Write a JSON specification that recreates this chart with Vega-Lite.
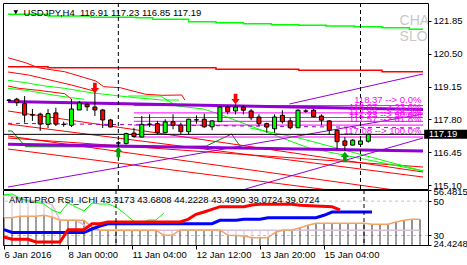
{
"$schema": "https://vega.github.io/schema/vega-lite/v6.json",
"background": "white",
"padding": {"left": 2, "top": 2, "right": 0, "bottom": 0},
"spacing": 1,
"bounds": "flush",
"config": {
  "font": "Liberation Sans",
  "view": {"stroke": "#000000", "strokeWidth": 1}
},
"datasets": {
  "candles": [
    {"i":0,"o":118.60,"h":118.64,"l":118.54,"c":118.58},
    {"i":1,"o":118.63,"h":118.69,"l":118.35,"c":118.49},
    {"i":2,"o":118.45,"h":118.76,"l":117.67,"c":117.98},
    {"i":3,"o":117.99,"h":118.23,"l":117.74,"c":117.98},
    {"i":4,"o":118.02,"h":118.08,"l":117.33,"c":117.61},
    {"i":5,"o":117.60,"h":118.23,"l":117.45,"c":118.04},
    {"i":6,"o":118.07,"h":118.28,"l":117.53,"c":117.61},
    {"i":7,"o":117.60,"h":117.71,"l":117.50,"c":117.59},
    {"i":8,"o":117.56,"h":118.64,"l":117.49,"c":118.23},
    {"i":9,"o":118.19,"h":118.56,"l":118.19,"c":118.48},
    {"i":10,"o":118.43,"h":118.48,"l":118.15,"c":118.32},
    {"i":11,"o":118.31,"h":118.97,"l":117.94,"c":118.19},
    {"i":12,"o":118.19,"h":118.23,"l":117.45,"c":117.78},
    {"i":13,"o":117.78,"h":117.82,"l":117.49,"c":117.49},
    {"i":14,"o":116.84,"h":116.92,"l":116.71,"c":116.83},
    {"i":15,"o":116.81,"h":117.26,"l":116.78,"c":117.22},
    {"i":16,"o":117.24,"h":117.46,"l":117.05,"c":117.10},
    {"i":17,"o":117.08,"h":117.94,"l":117.08,"c":117.60},
    {"i":18,"o":117.61,"h":118.01,"l":117.49,"c":117.60},
    {"i":19,"o":117.63,"h":117.74,"l":117.19,"c":117.26},
    {"i":20,"o":117.26,"h":117.81,"l":117.23,"c":117.70},
    {"i":21,"o":117.71,"h":118.01,"l":117.40,"c":117.56},
    {"i":22,"o":117.57,"h":117.67,"l":117.19,"c":117.30},
    {"i":23,"o":117.30,"h":117.83,"l":117.19,"c":117.81},
    {"i":24,"o":117.79,"h":117.97,"l":117.63,"c":117.78},
    {"i":25,"o":117.81,"h":118.04,"l":117.46,"c":117.50},
    {"i":26,"o":117.50,"h":117.77,"l":117.36,"c":117.74},
    {"i":27,"o":117.71,"h":118.35,"l":117.71,"c":118.31},
    {"i":28,"o":118.31,"h":118.39,"l":118.01,"c":118.12},
    {"i":29,"o":118.15,"h":118.42,"l":118.01,"c":118.31},
    {"i":30,"o":118.31,"h":118.39,"l":118.01,"c":118.18},
    {"i":31,"o":118.15,"h":118.22,"l":117.77,"c":117.87},
    {"i":32,"o":117.90,"h":118.01,"l":117.53,"c":117.63},
    {"i":33,"o":117.63,"h":117.67,"l":117.26,"c":117.49},
    {"i":34,"o":117.42,"h":118.01,"l":117.26,"c":117.90},
    {"i":35,"o":117.97,"h":118.18,"l":117.63,"c":117.71},
    {"i":36,"o":117.74,"h":117.87,"l":117.40,"c":117.46},
    {"i":37,"o":117.46,"h":118.22,"l":117.46,"c":118.18},
    {"i":38,"o":118.15,"h":118.22,"l":118.08,"c":118.14},
    {"i":39,"o":118.18,"h":118.24,"l":117.91,"c":117.91},
    {"i":40,"o":117.94,"h":118.01,"l":117.56,"c":117.77},
    {"i":41,"o":117.74,"h":117.77,"l":117.19,"c":117.36},
    {"i":42,"o":117.36,"h":117.40,"l":116.58,"c":116.89},
    {"i":43,"o":116.92,"h":117.08,"l":116.51,"c":116.74},
    {"i":44,"o":116.75,"h":116.99,"l":116.74,"c":116.95},
    {"i":45,"o":116.78,"h":116.95,"l":116.74,"c":116.92},
    {"i":46,"o":116.91,"h":117.23,"l":116.85,"c":117.19}
  ],
  "lines": [
    {"s":"GT","i":-0.125,"p":122.113},{"s":"GT","i":5,"p":122.043},{"s":"GT","i":10.5,"p":121.99},{"s":"GT","i":16.25,"p":121.973},{"s":"GT","i":18.4,"p":121.908},{"s":"GT","i":23,"p":121.809},{"s":"GT","i":26.5,"p":121.768},{"s":"GT","i":30,"p":121.727},{"s":"GT","i":33.6,"p":121.686},{"s":"GT","i":37.1,"p":121.662},{"s":"GT","i":40.6,"p":121.633},{"s":"GT","i":44.25,"p":121.604},{"s":"GT","i":47.75,"p":121.563},{"s":"GT","i":51.25,"p":121.498},{"s":"GT","i":53,"p":121.498},
    {"s":"RH","i":-0.125,"p":119.964},{"s":"RH","i":5,"p":119.923},{"s":"RH","i":26.5,"p":119.857},{"s":"RH","i":37.1,"p":119.816},{"s":"RH","i":47.75,"p":119.759},{"s":"RH","i":53,"p":119.759},
    {"s":"R1","i":-0.125,"p":120.333},{"s":"R1","i":2.125,"p":120.128},{"s":"R1","i":3.75,"p":119.923},{"s":"R1","i":5,"p":119.857},{"s":"R1","i":7.125,"p":119.759},{"s":"R1","i":11.125,"p":119.377},{"s":"R1","i":12.125,"p":119.144},{"s":"R1","i":14.25,"p":119.103},{"s":"R1","i":15.5,"p":118.996},{"s":"R1","i":17.5,"p":118.832},{"s":"R1","i":19.625,"p":118.791},{"s":"R1","i":22.125,"p":118.803},{"s":"R1","i":22.5,"p":118.598},
    {"s":"R2","i":-0.125,"p":119.746},{"s":"R2","i":2.5,"p":119.623},{"s":"R2","i":8,"p":119.213},{"s":"R2","i":10.875,"p":118.967},
    {"s":"R3","i":-0.125,"p":119.172},{"s":"R3","i":1.25,"p":119.078},{"s":"R3","i":3.75,"p":118.996},{"s":"R3","i":7.125,"p":118.857},{"s":"R3","i":8,"p":118.639},
    {"s":"G1","i":-0.125,"p":119.406},{"s":"G1","i":2.125,"p":119.308},{"s":"G1","i":4.625,"p":119.172},{"s":"G1","i":7.125,"p":119.078},{"s":"G1","i":10.5,"p":118.898},{"s":"G1","i":13.375,"p":118.791},{"s":"G1","i":16.25,"p":118.692},{"s":"G1","i":19.625,"p":118.598},{"s":"G1","i":21.75,"p":118.598},
    {"s":"G2","i":-0.125,"p":119.078},{"s":"G2","i":2.125,"p":118.996},{"s":"G2","i":5.875,"p":118.791},{"s":"G2","i":8,"p":118.692},{"s":"G2","i":9.625,"p":118.627},
    {"s":"P1","i":-0.125,"p":115.03},{"s":"P1","i":53,"p":118.024},
    {"s":"P2","i":35.9,"p":118.434},{"s":"P2","i":53,"p":119.665},
    {"s":"P3","i":30.25,"p":114.949},{"s":"P3","i":53,"p":117.04},
    {"s":"RD1","i":-0.125,"p":118.147},{"s":"RD1","i":53,"p":115.646},
    {"s":"RD2","i":-0.125,"p":117.614},{"s":"RD2","i":53,"p":115.441},
    {"s":"RDA","i":-0.125,"p":117.04},{"s":"RDA","i":53,"p":115.851},
    {"s":"RDB","i":-0.125,"p":117.122},{"s":"RDB","i":53,"p":114.744},
    {"s":"RDC","i":-0.125,"p":116.589},{"s":"RDC","i":53,"p":114.416},
    {"s":"GD1","i":15.25,"p":118.762},{"s":"GD1","i":19.375,"p":118.762},{"s":"GD1","i":21.5,"p":118.352},{"s":"GD1","i":24.875,"p":118.229},{"s":"GD1","i":26.875,"p":118.024},{"s":"GD1","i":38.375,"p":116.630},{"s":"GD1","i":53,"p":115.687},
    {"s":"GD2","i":30.875,"p":117.450},{"s":"GD2","i":37.125,"p":117.040},{"s":"GD2","i":53,"p":115.687},
    {"s":"DG","i":-0.125,"p":117.327},{"s":"DG","i":0.375,"p":117.327},{"s":"DG","i":2.125,"p":116.683},{"s":"DG","i":19.625,"p":116.671},{"s":"DG","i":25.25,"p":116.712},{"s":"DG","i":28.5,"p":117.204},{"s":"DG","i":29.75,"p":116.630},{"s":"DG","i":40.6,"p":116.589},
    {"s":"PU1","i":-0.125,"p":118.537},{"s":"PU1","i":53,"p":118.208},
    {"s":"PU2","i":-0.125,"p":116.782},{"s":"PU2","i":53,"p":116.507},
    {"s":"PD","i":-0.125,"p":117.643},{"s":"PD","i":53,"p":117.45}
  ],
  "fib": [
    {"lv":118.37,"t":"118.37 --> 0.0%"},
    {"lv":118.07,"t":"118.07 --> 23.6%"},
    {"lv":117.88,"t":"117.88 --> 38.2%"},
    {"lv":117.725,"t":"117.73 --> 50.0%"},
    {"lv":117.57,"t":"117.57 --> 61.8%"},
    {"lv":117.08,"t":"117.08 --> 100.0%"}
  ],
  "arrows": [
    {"i":11,"p":119.09,"d":"dn"},{"i":29,"p":118.64,"d":"dn"},
    {"i":14,"p":116.47,"d":"up"},{"i":43,"p":116.26,"d":"up"}
  ],
  "vlines": [{"i":14},{"i":45}],
  "hist": [
    {"i":0,"o":40.33,"t":53.57},{"i":1,"o":40.33,"t":52.98},{"i":2,"o":41.15,"t":51.23},{"i":3,"o":41.15,"t":50.65},{"i":4,"o":41.15,"t":50.07},{"i":5,"o":41.73,"t":49.49},{"i":6,"o":40.74,"t":48.03},{"i":7,"o":38.82,"t":38.82},{"i":8,"o":38.82,"t":38.82},{"i":9,"o":38.82,"t":38.82},{"i":10,"o":38.82,"t":36.08},{"i":11,"o":34.91,"t":33.34},{"i":12,"o":32.99,"t":32.99},{"i":13,"o":32.99,"t":32.99},{"i":14,"o":32.99,"t":32.99},{"i":15,"o":32.99,"t":32.99},{"i":16,"o":32.99,"t":32.99},{"i":17,"o":32.99,"t":32.99},{"i":18,"o":32.99,"t":32.99},{"i":19,"o":32.99,"t":32.99},{"i":20,"o":30.07,"t":32.99},{"i":21,"o":30.07,"t":32.99},{"i":22,"o":33.16,"t":32.99},{"i":23,"o":33.16,"t":32.99},{"i":24,"o":33.16,"t":32.99},{"i":25,"o":33.16,"t":32.99},{"i":26,"o":33.16,"t":32.99},{"i":27,"o":33.16,"t":32.99},{"i":28,"o":30.07,"t":32.99},{"i":29,"o":29.90,"t":32.99},{"i":30,"o":29.67,"t":32.99},{"i":31,"o":28.68,"t":32.99},{"i":32,"o":28.68,"t":32.99},{"i":33,"o":28.68,"t":32.99},{"i":34,"o":32.00,"t":32.99},{"i":35,"o":33.16,"t":32.99},{"i":36,"o":33.16,"t":32.99},{"i":37,"o":34.50,"t":32.99},{"i":38,"o":35.90,"t":32.99},{"i":39,"o":37.07,"t":32.99},{"i":40,"o":37.07,"t":32.99},{"i":41,"o":37.07,"t":32.99},{"i":42,"o":37.07,"t":32.99},{"i":43,"o":37.07,"t":32.99},{"i":44,"o":37.07,"t":32.99},{"i":45,"o":37.07,"t":32.99},{"i":46,"o":36.49,"t":32.99},{"i":47,"o":36.49,"t":32.99},{"i":48,"o":36.49,"t":32.99},{"i":49,"o":37.83,"t":32.99},{"i":50,"o":38.82,"t":32.99},{"i":51,"o":39.40,"t":32.99},{"i":52,"o":39.40,"t":32.99}
  ],
  "ind": [
    {"s":"red","i":0,"v":29.08},{"s":"red","i":1,"v":27.74},{"s":"red","i":3,"v":27.74},{"s":"red","i":4,"v":26.17},{"s":"red","i":7,"v":26.17},{"s":"red","i":8,"v":33.34},{"s":"red","i":10,"v":33.34},{"s":"red","i":11,"v":36.84},{"s":"red","i":12,"v":36.84},{"s":"red","i":13,"v":37.83},{"s":"red","i":22,"v":37.83},{"s":"red","i":23,"v":39.40},{"s":"red","i":24,"v":42.32},{"s":"red","i":25,"v":43.66},{"s":"red","i":26,"v":45.23},{"s":"red","i":27,"v":46.75},{"s":"red","i":30,"v":46.75},{"s":"red","i":31,"v":47.74},{"s":"red","i":32,"v":48.15},{"s":"red","i":36,"v":48.15},{"s":"red","i":37,"v":47.56},{"s":"red","i":41,"v":46.75},{"s":"red","i":42,"v":44.82},
    {"s":"blue","i":0,"v":33.34},{"s":"blue","i":1,"v":31.71},{"s":"blue","i":10,"v":31.71},{"s":"blue","i":11,"v":33.75},{"s":"blue","i":12,"v":35.50},{"s":"blue","i":13,"v":36.84},{"s":"blue","i":26,"v":36.84},{"s":"blue","i":27,"v":38.82},{"s":"blue","i":29,"v":38.82},{"s":"blue","i":30,"v":39.40},{"s":"blue","i":32,"v":39.40},{"s":"blue","i":33,"v":40.33},{"s":"blue","i":39,"v":40.33},{"s":"blue","i":40,"v":41.73},{"s":"blue","i":41,"v":43.66},{"s":"blue","i":46,"v":43.66},
    {"s":"green","i":-1,"v":41.3},{"s":"green","i":0,"v":53.57},{"s":"green","i":1,"v":54.15},{"s":"green","i":2,"v":51.82},{"s":"green","i":3,"v":50.07},{"s":"green","i":4,"v":49.49},{"s":"green","i":5,"v":48.32},{"s":"green","i":6,"v":44.82},{"s":"green","i":7,"v":43.07},{"s":"green","i":8,"v":48.90},{"s":"green","i":9,"v":46.57},{"s":"green","i":10,"v":44.24},{"s":"green","i":11,"v":48.90},{"s":"green","i":12,"v":48.32},{"s":"green","i":13,"v":48.32},{"s":"green","i":14,"v":46.57},{"s":"green","i":15,"v":43.07},{"s":"green","i":16,"v":38.99},{"s":"green","i":17,"v":36.08},{"s":"green","i":18,"v":38.99},{"s":"green","i":19,"v":38.99},{"s":"green","i":20,"v":43.07}
  ]
},
"vconcat": [
  {
    "width": 425, "height": 186,
    "resolve": {"axis": {"x": "independent", "y": "independent"}},
    "layer": [
      {"data": {"name": "candles"}, "mark": {"type": "rule", "color": "#000000", "strokeWidth": 1, "opacity": 0},
       "encoding": {
         "x": {"field": "i", "type": "quantitative", "scale": {"domain": [-0.125, 53], "nice": false, "zero": false}, "axis": null},
         "y": {"field": "l", "type": "quantitative", "scale": {"domain": [114.949, 122.576], "nice": false, "zero": false},
               "axis": {"title": null, "orient": "right", "values": [115.1, 116.45, 117.8, 119.15, 120.5, 121.85], "format": ".2f", "domain": false, "grid": false, "ticks": true, "tickSize": 3, "tickColor": "#000000", "labels": true, "labelFont": "Liberation Sans", "labelFontSize": 9.5, "labelColor": "#000000", "labelPadding": 2, "zindex": 2}}}},
      {"data": {"name": "lines"}, "transform": [{"filter": "datum.s == 'GT'"}], "mark": {"type": "line", "interpolate": "step-after", "strokeWidth": 1.5, "color": "#00FF00", "clip": true},
       "encoding": {
         "x": {"field": "i", "type": "quantitative", "axis": null},
         "y": {"field": "p", "type": "quantitative", "axis": null}}},
      {"data": {"name": "lines"}, "transform": [{"filter": "datum.s == 'RH'"}], "mark": {"type": "line", "interpolate": "step-after", "strokeWidth": 1.5, "color": "#FF0000", "clip": true},
       "encoding": {
         "x": {"field": "i", "type": "quantitative", "axis": null},
         "y": {"field": "p", "type": "quantitative", "axis": null}}},
      {"data": {"name": "lines"}, "transform": [{"filter": "indexof(['R1','R2','R3','RD1','RD2','RDA','RDB','RDC'], datum.s) >= 0"}], "mark": {"type": "line", "strokeWidth": 1, "color": "#FF0000", "clip": true},
       "encoding": {
         "x": {"field": "i", "type": "quantitative", "axis": null},
         "y": {"field": "p", "type": "quantitative", "axis": null},
         "detail": {"field": "s"}}},
      {"data": {"name": "lines"}, "transform": [{"filter": "indexof(['G1','G2','GD1','GD2'], datum.s) >= 0"}], "mark": {"type": "line", "strokeWidth": 1, "color": "#00FF00", "clip": true},
       "encoding": {
         "x": {"field": "i", "type": "quantitative", "axis": null},
         "y": {"field": "p", "type": "quantitative", "axis": null},
         "detail": {"field": "s"}}},
      {"data": {"name": "lines"}, "transform": [{"filter": "datum.s == 'DG'"}], "mark": {"type": "line", "strokeWidth": 1, "color": "#008000", "clip": true},
       "encoding": {
         "x": {"field": "i", "type": "quantitative", "axis": null},
         "y": {"field": "p", "type": "quantitative", "axis": null}}},
      {"data": {"name": "lines"}, "transform": [{"filter": "indexof(['P1','P2','P3'], datum.s) >= 0"}], "mark": {"type": "line", "strokeWidth": 1, "color": "#9400D3", "clip": true},
       "encoding": {
         "x": {"field": "i", "type": "quantitative", "axis": null},
         "y": {"field": "p", "type": "quantitative", "axis": null},
         "detail": {"field": "s"}}},
      {"data": {"name": "fib"}, "mark": {"type": "rule", "color": "#FF00FF", "strokeWidth": 1},
       "encoding": {
         "x": {"datum": 16, "type": "quantitative", "axis": null},
         "x2": {"datum": 53},
         "y": {"field": "lv", "type": "quantitative", "axis": null}}},
      {"data": {"name": "lines"}, "transform": [{"filter": "datum.s == 'PD'"}], "mark": {"type": "line", "strokeWidth": 1, "strokeDash": [4, 4], "color": "#9400D3", "clip": true},
       "encoding": {
         "x": {"field": "i", "type": "quantitative", "axis": null},
         "y": {"field": "p", "type": "quantitative", "axis": null}}},
      {"data": {"name": "lines"}, "transform": [{"filter": "datum.s == 'PU1' || datum.s == 'PU2'"}], "mark": {"type": "line", "strokeWidth": 3, "color": "#9400D3", "clip": true},
       "encoding": {
         "x": {"field": "i", "type": "quantitative", "axis": null},
         "y": {"field": "p", "type": "quantitative", "axis": null},
         "detail": {"field": "s"}}},
      {"data": {"values": [{"p": 117.19}]}, "mark": {"type": "rule", "color": "#000000", "strokeWidth": 1},
       "encoding": {
         "y": {"field": "p", "type": "quantitative", "axis": null}}},
      {"data": {"name": "vlines"}, "mark": {"type": "rule", "color": "#000000", "strokeDash": [4, 3]},
       "encoding": {
         "x": {"field": "i", "type": "quantitative", "axis": null}}},
      {"data": {"name": "candles"}, "mark": {"type": "rule", "color": "#000000", "strokeWidth": 1},
       "encoding": {
         "x": {"field": "i", "type": "quantitative", "axis": null},
         "y": {"field": "l", "type": "quantitative", "axis": null},
         "y2": {"field": "h"}}},
      {"data": {"name": "candles"}, "mark": {"type": "bar", "size": 4, "stroke": "#000000", "strokeWidth": 1},
       "encoding": {
         "x": {"field": "i", "type": "quantitative", "axis": null},
         "y": {"field": "o", "type": "quantitative", "axis": null},
         "y2": {"field": "c"},
         "color": {"condition": {"test": "datum.c > datum.o", "value": "#00FF00"}, "value": "#FF0000"}}},
      {"data": {"name": "fib"}, "mark": {"type": "text", "align": "right", "baseline": "bottom", "dy": -1, "fontSize": 9.5, "color": "#FF00FF"},
       "encoding": {
         "x": {"datum": 52.8, "type": "quantitative", "axis": null},
         "y": {"field": "lv", "type": "quantitative", "axis": null},
         "text": {"field": "t"}}},
      {"data": {"name": "arrows"}, "transform": [{"filter": "datum.d == 'dn'"}], "mark": {"type": "point", "filled": true, "size": 110, "opacity": 1, "color": "#FF0000", "shape": "M-0.35,-1L0.35,-1L0.35,0L0.8,0L0,1L-0.8,0L-0.35,0Z"},
       "encoding": {
         "x": {"field": "i", "type": "quantitative", "axis": null},
         "y": {"field": "p", "type": "quantitative", "axis": null}}},
      {"data": {"name": "arrows"}, "transform": [{"filter": "datum.d == 'up'"}], "mark": {"type": "point", "filled": true, "size": 110, "opacity": 1, "color": "#00A000", "shape": "M-0.35,1L0.35,1L0.35,0L0.8,0L0,-1L-0.8,0L-0.35,0Z"},
       "encoding": {
         "x": {"field": "i", "type": "quantitative", "axis": null},
         "y": {"field": "p", "type": "quantitative", "axis": null}}},
      {"data": {"values": [{"t": "USDJPY,H4\u00a0\u00a0116.91 117.23 116.85 117.19"}]}, "mark": {"type": "text", "align": "left", "baseline": "middle", "fontSize": 9.5, "color": "#000000"},
       "encoding": {
         "x": {"datum": 1.875, "type": "quantitative", "axis": null},
         "y": {"datum": 122.178, "type": "quantitative", "axis": null},
         "text": {"field": "t"}}},
      {"data": {"values": [{"k": "m"}]}, "mark": {"type": "point", "shape": "triangle-down", "filled": true, "size": 22, "color": "#000000", "opacity": 1},
       "encoding": {
         "x": {"datum": 0.875, "type": "quantitative", "axis": null},
         "y": {"datum": 122.2, "type": "quantitative", "axis": null}}},
      {"data": {"values": [{"t": "CHA", "p": 121.84}, {"t": "SLO", "p": 121.18}]}, "mark": {"type": "text", "align": "left", "baseline": "middle", "fontSize": 14, "color": "#C8C8C8", "clip": true},
       "encoding": {
         "x": {"datum": 50, "type": "quantitative", "axis": null},
         "y": {"field": "p", "type": "quantitative", "axis": null},
         "text": {"field": "t"}}},
      {"data": {"values": [{"k": "box"}]}, "mark": {"type": "rect", "color": "#000000", "clip": false},
       "encoding": {
         "x": {"datum": 53.15, "type": "quantitative", "axis": null},
         "x2": {"datum": 59},
         "y": {"datum": 117.375, "type": "quantitative", "axis": null},
         "y2": {"datum": 117.005}}},
      {"data": {"values": [{"t": "117.19", "p": 117.19}]}, "mark": {"type": "text", "align": "left", "baseline": "middle", "fontSize": 9.5, "color": "#FFFFFF", "clip": false},
       "encoding": {
         "x": {"datum": 53.75, "type": "quantitative", "axis": null},
         "y": {"field": "p", "type": "quantitative", "axis": null},
         "text": {"field": "t"}}}
    ]
  },
  {
    "width": 425, "height": 55,
    "resolve": {"axis": {"x": "independent", "y": "independent"}},
    "layer": [
      {"data": {"name": "hist"}, "mark": {"type": "rule", "color": "#D8BFD8", "strokeWidth": 1},
       "encoding": {
         "x": {"field": "i", "type": "quantitative", "scale": {"domain": [-0.125, 53], "nice": false, "zero": false},
               "axis": {"title": null, "orient": "bottom", "values": [0, 8, 16, 24, 32, 40], "labelExpr": "datum.value == 0 ? '6 Jan 2016' : datum.value == 8 ? '8 Jan 00:00' : datum.value == 16 ? '11 Jan 04:00' : datum.value == 24 ? '12 Jan 12:00' : datum.value == 32 ? '13 Jan 20:00' : '15 Jan 04:00'", "labelAlign": "left", "domain": false, "grid": false, "tickSize": 4, "tickColor": "#000000", "labelFont": "Liberation Sans", "labelFontSize": 9.5, "labelColor": "#000000", "labelPadding": 0, "labelFlush": false, "labelOverlap": false, "zindex": 2}},
         "y": {"field": "t", "type": "quantitative", "scale": {"domain": [24.4248, 56.4815], "nice": false, "zero": false},
               "axis": {"title": null, "orient": "right", "values": [24.4248, 30, 50, 56.4815], "labelExpr": "datum.value == 56.4815 ? '56.4815' : datum.value == 24.4248 ? '24.4248' : format(datum.value, 'd')", "domain": false, "grid": false, "tickSize": 3, "tickColor": "#000000", "labelFont": "Liberation Sans", "labelFontSize": 9.5, "labelColor": "#000000", "labelPadding": 2, "labelFlush": true, "labelFlushOffset": 3.5, "labelOverlap": false, "zindex": 2}},
         "y2": {"field": "o"}}},
      {"data": {"values": [{"v": 50}, {"v": 30}]}, "mark": {"type": "rule", "color": "#C0C0C0", "strokeDash": [3, 3]},
       "encoding": {
         "y": {"field": "v", "type": "quantitative", "axis": null}}},
      {"data": {"name": "hist"}, "mark": {"type": "rule", "color": "#404040", "strokeWidth": 1},
       "encoding": {
         "x": {"field": "i", "type": "quantitative", "axis": null},
         "y": {"field": "o", "type": "quantitative", "axis": null},
         "y2": {"datum": 24.4248}}},
      {"data": {"name": "hist"}, "mark": {"type": "line", "color": "#D8BFD8", "strokeWidth": 1.5, "clip": true},
       "encoding": {
         "x": {"field": "i", "type": "quantitative", "axis": null},
         "y": {"field": "t", "type": "quantitative", "axis": null}}},
      {"data": {"name": "hist"}, "mark": {"type": "line", "color": "#F4A460", "strokeWidth": 1.5, "clip": true},
       "encoding": {
         "x": {"field": "i", "type": "quantitative", "axis": null},
         "y": {"field": "o", "type": "quantitative", "axis": null}}},
      {"data": {"name": "ind"}, "transform": [{"filter": "datum.s == 'green'"}], "mark": {"type": "line", "color": "#00FF00", "strokeWidth": 1, "clip": true},
       "encoding": {
         "x": {"field": "i", "type": "quantitative", "axis": null},
         "y": {"field": "v", "type": "quantitative", "axis": null}}},
      {"data": {"name": "ind"}, "transform": [{"filter": "datum.s == 'blue'"}], "mark": {"type": "line", "color": "#0000FF", "strokeWidth": 3, "clip": true},
       "encoding": {
         "x": {"field": "i", "type": "quantitative", "axis": null},
         "y": {"field": "v", "type": "quantitative", "axis": null}}},
      {"data": {"name": "ind"}, "transform": [{"filter": "datum.s == 'red'"}], "mark": {"type": "line", "color": "#FF0000", "strokeWidth": 3, "clip": true},
       "encoding": {
         "x": {"field": "i", "type": "quantitative", "axis": null},
         "y": {"field": "v", "type": "quantitative", "axis": null}}},
      {"data": {"name": "vlines"}, "mark": {"type": "rule", "color": "#000000", "strokeDash": [4, 3]},
       "encoding": {
         "x": {"field": "i", "type": "quantitative", "axis": null}}},
      {"data": {"values": [{"t": "AMTLPRO RSI_ICHI 43.3173 43.6808 44.2228 43.4990 39.0724 39.0724"}]}, "mark": {"type": "text", "align": "left", "baseline": "middle", "fontSize": 9.5, "color": "#000000"},
       "encoding": {
         "x": {"datum": 0.625, "type": "quantitative", "axis": null},
         "y": {"datum": 50.9, "type": "quantitative", "axis": null},
         "text": {"field": "t"}}}
    ]
  }
]
}
